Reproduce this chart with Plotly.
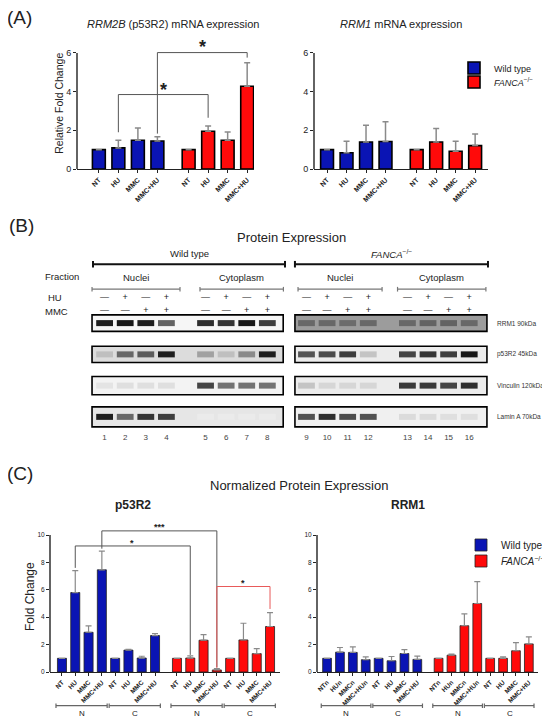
import plotly.graph_objects as go

FONT = "Arial, Liberation Sans, sans-serif"
BLUE = "#0a14b4"
RED = "#ff0a0a"

conds = ["NT", "HU", "MMC", "MMC+HU"]
conds_n = ["NTn", "HUn", "MMCn", "MMC+HUn"]

# (A) mRNA expression: mean and upper error
rrm2b_wt = [1.0, 1.09, 1.49, 1.45]
rrm2b_wt_err = [0.0, 0.40, 0.63, 0.22]
rrm2b_fa = [1.0, 1.95, 1.49, 4.28]
rrm2b_fa_err = [0.0, 0.28, 0.42, 1.21]
rrm1_wt = [1.0, 0.84, 1.40, 1.42]
rrm1_wt_err = [0.0, 0.60, 0.86, 1.02]
rrm1_fa = [1.0, 1.40, 0.92, 1.21]
rrm1_fa_err = [0.0, 0.69, 0.52, 0.60]

# (B) western blot, band darkness per lane (0 = blank, 1 = black)
lanes = list(range(1, 17))
hu_signs = ["—", "+", "—", "+"] * 4
mmc_signs = ["—", "—", "+", "+"] * 4
blot_names = ["RRM1 90kDa", "p53R2 45kDa", "Vinculin 120kDa", "Lamin A 70kDa"]
band_rrm1 = [0.92, 0.95, 0.92, 0.62, 0.85, 0.82, 0.95, 0.78, 0.6, 0.6, 0.58, 0.6, 0.6, 0.62, 0.62, 0.6]
band_p53r2 = [0.22, 0.6, 0.65, 0.92, 0.35, 0.22, 0.45, 0.92, 0.68, 0.72, 0.78, 0.2, 0.75, 0.82, 0.78, 0.95]
band_vinc = [0.06, 0.08, 0.08, 0.08, 0.75, 0.55, 0.55, 0.55, 0.2, 0.12, 0.12, 0.12, 0.8, 0.8, 0.75, 0.85]
band_lamin = [0.92, 0.6, 0.82, 0.78, 0.03, 0.03, 0.03, 0.03, 0.7, 0.85, 0.72, 0.7, 0.1, 0.1, 0.08, 0.08]

# (C) normalized protein expression, nuclei then cytoplasm
p53_wt = [1.0, 5.8, 2.9, 7.46, 1.0, 1.6, 1.02, 2.66]
p53_wt_err = [0.0, 1.6, 0.47, 1.37, 0.0, 0.06, 0.13, 0.14]
p53_fa = [1.0, 1.02, 2.32, 0.15, 1.0, 2.34, 1.34, 3.32]
p53_fa_err = [0.0, 0.15, 0.41, 0.10, 0.0, 1.22, 0.36, 1.02]
rrm1p_wt = [1.0, 1.45, 1.43, 0.9, 1.0, 0.82, 1.35, 0.92]
rrm1p_wt_err = [0.0, 0.34, 0.41, 0.2, 0.0, 0.31, 0.29, 0.24]
rrm1p_fa = [1.0, 1.23, 3.38, 5.0, 1.0, 1.0, 1.55, 2.05]
rrm1p_fa_err = [0.0, 0.07, 0.87, 1.6, 0.0, 0.1, 0.6, 0.51]

# bar positions
pos_a_wt = [0, 1, 2, 3]
pos_a_fa = [4.6, 5.6, 6.6, 7.6]
pos_c_wt = list(range(8))
pos_c_fa = [8.65 + i for i in range(8)]
lane_x = [l + 0.9 * ((l - 1) // 4) for l in lanes]

# the page body adds an 8px margin, so the figure is laid out in window pixels minus that
OX, OY, W, H = 8, 8, 542, 710


def fx(p):
    return (p - OX) / W


def fy(p):
    return 1 - (p - OY) / H


fig = go.Figure()
ann = []
shp = []


def txt(text, x, y, size, xref="paper", yref="paper", color="#222", xanchor="center", yanchor="middle"):
    if xref == "paper":
        x = fx(x)
    if yref == "paper":
        y = fy(y)
    ann.append(dict(text=text, x=x, y=y, xref=xref, yref=yref, showarrow=False,
                    xanchor=xanchor, yanchor=yanchor,
                    font=dict(size=size, family=FONT, color=color)))


def seg(x0, y0, x1, y1, xref, yref, color="#555", w=1):
    if yref == "paper":
        y0, y1 = fy(y0), fy(y1)
    shp.append(dict(type="line", x0=x0, y0=y0, x1=x1, y1=y1, xref=xref, yref=yref,
                    line=dict(color=color, width=w)))


def bracket(xa, ya, x0, x1, top, b0, b1, color="#555"):
    seg(x0, b0, x0, top, xa, ya, color)
    seg(x0, top, x1, top, xa, ya, color)
    seg(x1, top, x1, b1, xa, ya, color)


def bars(x, y, err, color, name, xa, ya, legend, bw, lw, lcol, ew):
    fig.add_trace(go.Bar(
        x=x, y=y, width=bw, name=name, xaxis=xa, yaxis=ya, showlegend=legend is not None,
        legend=legend or "legend",
        marker=dict(color=color, line=dict(color=lcol, width=lw)),
        error_y=dict(type="data", array=err, arrayminus=[0] * len(err), symmetric=False,
                     color="#8a8a8a", thickness=ew, width=3),
    ))


FA_NAME = "<i>FANCA</i><sup>−/−</sup>"

# ---- (A) ----
bars(pos_a_wt, rrm2b_wt, rrm2b_wt_err, BLUE, "Wild type", "x", "y", "legend", 0.66, 1.6, "black", 1.5)
bars(pos_a_fa, rrm2b_fa, rrm2b_fa_err, RED, FA_NAME, "x", "y", "legend2", 0.66, 1.6, "black", 1.5)
bars(pos_a_wt, rrm1_wt, rrm1_wt_err, BLUE, "Wild type", "x2", "y2", None, 0.66, 1.6, "black", 1.5)
bars(pos_a_fa, rrm1_fa, rrm1_fa_err, RED, FA_NAME, "x2", "y2", None, 0.66, 1.6, "black", 1.5)

bracket("x", "y", 1, 5.6, 3.85, 1.9, 2.65)
bracket("x", "y", 3, 7.6, 6.02, 1.83, 5.76)
txt("<b>*</b>", 3.3, 4.1, 18, xref="x", yref="y")
txt("<b>*</b>", 5.3, 6.33, 18, xref="x", yref="y")

txt("(A)", 19.5, 18, 19)
txt("<i>RRM2B</i> (p53R2) mRNA expression", 173, 24, 11)
txt("<i>RRM1</i> mRNA expression", 401, 24, 11)

# ---- (B) ----
bands = [band_rrm1, band_p53r2, band_vinc, band_lamin]
box_half = [0.265, 0.26, 0.29, 0.32]
box_fill = [["#f6f6f6", "#dcdcdc", "#f3f3f3", "#e6e6e6"],
            ["#9c9c9c", "#ececec", "#ececec", "#f0f0f0"]]
box_x = [(0.39, 9.67), (10.24, 19.56)]
for r in range(4):
    for g in range(2):
        shp.append(dict(type="rect", xref="x5", yref="y5", x0=box_x[g][0], x1=box_x[g][1],
                        y0=r - box_half[r], y1=r + box_half[r], fillcolor=box_fill[g][r],
                        line=dict(color="black", width=1.6), layer="below"))
    grays = ["rgb({0},{0},{0})".format(int(242 - 230 * v)) for v in bands[r]]
    fig.add_trace(go.Scatter(
        x=lane_x, y=[r] * 16, mode="markers", xaxis="x5", yaxis="y5", showlegend=False,
        hoverinfo="skip",
        marker=dict(symbol="line-ew-open", size=12, color=grays, line=dict(width=6)),
    ))
    txt(blot_names[r], 495, r, 6.5, yref="y5", xanchor="left", color="#333")

fig.add_trace(go.Scatter(x=lane_x, y=[-0.815] * 16, text=hu_signs, mode="text", xaxis="x5",
                         yaxis="y5", showlegend=False, hoverinfo="skip",
                         textfont=dict(size=9, family=FONT, color="#222")))
fig.add_trace(go.Scatter(x=lane_x, y=[-0.383] * 16, text=mmc_signs, mode="text", xaxis="x5",
                         yaxis="y5", showlegend=False, hoverinfo="skip",
                         textfont=dict(size=9, family=FONT, color="#222")))
fig.add_trace(go.Scatter(x=lane_x, y=[3.67] * 16, text=[str(l) for l in lanes], mode="text",
                         xaxis="x5", yaxis="y5", showlegend=False, hoverinfo="skip",
                         textfont=dict(size=8, family=FONT, color="#444")))

txt("(B)", 21, 225, 19)
txt("Protein Expression", 291, 237, 13)
for (x0, x1), label in zip([(0.437, 9.757), (10.24, 19.61)], ["Wild type", "<i>FANCA</i><sup>−/−</sup>"]):
    seg(x0, -1.885, x1, -1.885, "x5", "y5", "#111", 2)
    seg(x0, -1.99, x0, -1.78, "x5", "y5", "#111", 2)
    seg(x1, -1.99, x1, -1.78, "x5", "y5", "#111", 2)
    txt(label, (x0 + x1) / 2, -2.22, 9.5, xref="x5", yref="y5")
frac = [(0.39, 4.66, "Nuclei"), (5.63, 9.68, "Cytoplasm"), (10.39, 14.47, "Nuclei"), (15.22, 19.51, "Cytoplasm")]
for x0, x1, label in frac:
    seg(x0, -1.085, x1, -1.085, "x5", "y5", "#777", 1.2)
    seg(x0, -1.16, x0, -1.01, "x5", "y5", "#777", 1.2)
    seg(x1, -1.16, x1, -1.01, "x5", "y5", "#777", 1.2)
    txt(label, (x0 + x1) / 2, -1.45, 9.5, xref="x5", yref="y5")
txt("Fraction", 62, 277, 9.5)
txt("HU", 55.4, 297.5, 9.5)
txt("MMC", 56, 311, 9.5)

# ---- (C) ----
bars(pos_c_wt, p53_wt, p53_wt_err, BLUE, "Wild type", "x3", "y3", "legend3", 0.68, 0.8, "#222", 1.2)
bars(pos_c_fa, p53_fa, p53_fa_err, RED, FA_NAME, "x3", "y3", "legend4", 0.68, 0.8, "#222", 1.2)
bars(pos_c_wt, rrm1p_wt, rrm1p_wt_err, BLUE, "Wild type", "x4", "y4", None, 0.68, 0.8, "#222", 1.2)
bars(pos_c_fa, rrm1p_fa, rrm1p_fa_err, RED, FA_NAME, "x4", "y4", None, 0.68, 0.8, "#222", 1.2)

bracket("x3", "y3", 1, 9.65, 9.2, 7.6, 1.25)
bracket("x3", "y3", 3, 11.65, 10.3, 9.0, 0.35)
bracket("x3", "y3", 11.65, 15.65, 6.24, 0.3, 4.6, color="#e85a5a")
txt("<b>***</b>", 7.3, 10.55, 9, xref="x3", yref="y3")
txt("<b>*</b>", 5.3, 9.45, 9, xref="x3", yref="y3")
txt("<b>*</b>", 13.65, 6.5, 9, xref="x3", yref="y3")

for xa in ["x3", "x4"]:
    for a, b, label in [(0, 3, "N"), (4, 7, "C"), (8.65, 11.65, "N"), (12.65, 15.65, "C")]:
        x0, x1 = a - 0.45, b + 0.4
        seg(x0, 705.7, x1, 705.7, xa, "paper", "#666", 1.2)
        seg(x0, 703.5, x0, 708, xa, "paper", "#666", 1.2)
        seg(x1, 703.5, x1, 708, xa, "paper", "#666", 1.2)
        txt(label, (a + b) / 2, 713, 8, xref=xa)

txt("(C)", 20, 473, 19)
txt("Normalized Protein Expression", 299, 485, 13)
txt("<b>p53R2</b>", 133, 505, 12)
txt("<b>RRM1</b>", 408, 505, 12)

# y axis lines only up to the top tick
for xa, ya, top in [("x", "y", 6), ("x2", "y2", 6), ("x3", "y3", 10), ("x4", "y4", 10)]:
    shp.append(dict(type="line", xref=xa + " domain", yref=ya, x0=0, x1=0, y0=0, y1=top,
                    line=dict(color="#222", width=1.4)))

xcommon = dict(showgrid=False, zeroline=False, showline=True, linecolor="#222", linewidth=1.4,
               ticks="outside", ticklen=3, tickwidth=1, tickcolor="#222", tickangle=-45)
ycommon = dict(showgrid=False, zeroline=False, showline=False, ticks="outside", ticklen=3,
               tickwidth=1, tickcolor="#222")
leg = dict(xanchor="left", yanchor="middle", bgcolor="rgba(0,0,0,0)", borderwidth=0)

fig.update_layout(
    width=W, height=H, margin=dict(l=0, r=0, t=0, b=0, autoexpand=False),
    paper_bgcolor="white", plot_bgcolor="white", barmode="overlay",
    font=dict(family=FONT, color="#222"),
    xaxis=dict(domain=[fx(77), fx(254)], range=[-1.12, 7.95], anchor="y", tickvals=pos_a_wt + pos_a_fa,
               ticktext=conds * 2, tickfont=dict(size=7, weight="bold"), **xcommon),
    yaxis=dict(domain=[fy(169), fy(37.5)], range=[0, 6.8], anchor="x", tickvals=[0, 2, 4, 6],
               tickfont=dict(size=9), title=dict(text="Relative Fold Change", font=dict(size=10.5), standoff=0),
               **ycommon),
    xaxis2=dict(domain=[fx(314), fx(488)], range=[-0.67, 8.26], anchor="y2", tickvals=pos_a_wt + pos_a_fa,
                ticktext=conds * 2, tickfont=dict(size=7, weight="bold"), **xcommon),
    yaxis2=dict(domain=[fy(169), fy(37.5)], range=[0, 6.8], anchor="x2", tickvals=[0, 2, 4, 6],
                tickfont=dict(size=9), **ycommon),
    xaxis3=dict(domain=[fx(50), fx(280)], range=[-0.9, 16.4], anchor="y3", tickvals=pos_c_wt + pos_c_fa,
                ticktext=conds * 4, tickfont=dict(size=6.5, weight="bold"), **xcommon),
    yaxis3=dict(domain=[fy(672), fy(521.3)], range=[0, 11], anchor="x3", tickvals=[0, 2, 4, 6, 8, 10],
                tickfont=dict(size=6.5), title=dict(text="Fold Change", font=dict(size=12), standoff=0),
                **ycommon),
    xaxis4=dict(domain=[fx(317), fx(538)], range=[-0.78, 16.36], anchor="y4", tickvals=pos_c_wt + pos_c_fa,
                ticktext=(conds_n + conds) * 2, tickfont=dict(size=6.5, weight="bold"), **xcommon),
    yaxis4=dict(domain=[fy(672), fy(521.3)], range=[0, 11], anchor="x4", tickvals=[0, 2, 4, 6, 8, 10],
                tickfont=dict(size=6.5), **ycommon),
    xaxis5=dict(domain=[0, 1], range=[1 + (OX - 104.6) / 20.6, 1 + (550 - 104.6) / 20.6], anchor="y5",
                visible=False),
    yaxis5=dict(domain=[fy(445), fy(245)], range=[3.9, -2.5], anchor="x5", visible=False),
    legend=dict(x=fx(454), y=fy(68), font=dict(size=9), **leg),
    legend2=dict(x=fx(454), y=fy(82), font=dict(size=9), **leg),
    legend3=dict(x=fx(461), y=fy(545), font=dict(size=10), **leg),
    legend4=dict(x=fx(461), y=fy(561), font=dict(size=10), **leg),
    annotations=ann, shapes=shp,
)

fig.write_html("out.html")
